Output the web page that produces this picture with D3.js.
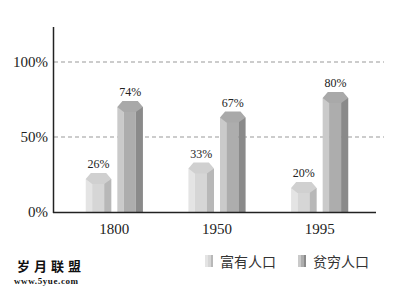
<!DOCTYPE html>
<html>
<head>
<meta charset="utf-8">
<script src="https://cdn.jsdelivr.net/npm/d3@7"></script>
<style>
  body { margin: 0; background: #fff; }
  text { font-family: "Liberation Serif", "DejaVu Serif", serif; }
  .cjk { font-family: "Noto Sans CJK SC", sans-serif; }
</style>
</head>
<body>
<div id="chart"></div>
<script>
const years = ["1800", "1950", "1995"];
const seriesNames = ["富有人口", "贫穷人口"];
const rich = [26, 33, 20];
const poor = [74, 67, 80];
const yTicks = [0, 50, 100];

const width = 400, height = 291;

const svg = d3.select("#chart").append("svg")
  .attr("width", width)
  .attr("height", height);

// scales
const x = d3.scaleBand()
  .domain(years)
  .range([63, 371])
  .padding(0);

const inner = d3.scaleBand()
  .domain(seriesNames)
  .range([0, x.bandwidth()])
  .paddingInner(0.19)
  .paddingOuter(0.72);

const y = d3.scaleLinear()
  .domain([0, 100])
  .range([212, 62]);

// colours: left face, middle face, right face, top cap
const palette = {
  "富有人口": ["#e4e4e4", "#d6d6d6", "#b8b8b8", "#d0d0d0"],
  "贫穷人口": ["#cacaca", "#adadad", "#8a8a8a", "#a9a9a9"]
};

// grid lines
svg.selectAll(".grid")
  .data(yTicks.filter(d => d > 0))
  .enter().append("line")
  .attr("class", "grid")
  .attr("x1", 54).attr("x2", 384)
  .attr("y1", d => y(d)).attr("y2", d => y(d))
  .attr("stroke", "#999")
  .attr("stroke-width", 1)
  .attr("stroke-dasharray", "4,3");

// y tick labels
svg.selectAll(".ytick")
  .data(yTicks)
  .enter().append("text")
  .attr("class", "ytick")
  .attr("x", 48)
  .attr("y", d => y(d) + 5)
  .attr("text-anchor", "end")
  .attr("font-size", 15)
  .attr("fill", "#222")
  .text(d => d + "%");

// bars
const groups = svg.selectAll(".year")
  .data(years)
  .enter().append("g")
  .attr("class", "year")
  .attr("transform", d => "translate(" + x(d) + ",0)");

function drawBar(g, name, value) {
  const x0 = inner(name);
  const w = inner.bandwidth();
  const top = y(value);
  const base = y(0);
  const c = palette[name];
  const s1 = 6, s2 = 11;
  const a = x0 + w * 0.25, b = x0 + w * 0.72;
  // faces
  g.append("rect").attr("x", x0).attr("y", top + s1)
    .attr("width", a - x0).attr("height", base - top - s1).attr("fill", c[0]);
  g.append("rect").attr("x", a).attr("y", top + s1)
    .attr("width", b - a).attr("height", base - top - s1).attr("fill", c[1]);
  g.append("rect").attr("x", b).attr("y", top + s1)
    .attr("width", x0 + w - b).attr("height", base - top - s1).attr("fill", c[2]);
  // hexagonal cap
  const pts = [
    [x0, top + s1], [x0 + w * 0.2, top], [x0 + w * 0.8, top],
    [x0 + w, top + s1], [b, top + s2], [a, top + s2]
  ];
  g.append("polygon")
    .attr("points", pts.map(p => p.join(",")).join(" "))
    .attr("fill", c[3]);
  // value label
  g.append("text")
    .attr("x", x0 + w / 2)
    .attr("y", top - 5)
    .attr("text-anchor", "middle")
    .attr("font-size", 12)
    .attr("fill", "#222")
    .text(value + "%");
}

groups.each(function(d, i) {
  const g = d3.select(this);
  drawBar(g, seriesNames[0], rich[i]);
  drawBar(g, seriesNames[1], poor[i]);
});

// axes lines
svg.append("line")
  .attr("x1", 53.5).attr("x2", 53.5)
  .attr("y1", 27).attr("y2", 213)
  .attr("stroke", "#222").attr("stroke-width", 1.5);
svg.append("line")
  .attr("x1", 53).attr("x2", 376)
  .attr("y1", 212.5).attr("y2", 212.5)
  .attr("stroke", "#222").attr("stroke-width", 1.5);

// x labels
svg.selectAll(".xlabel")
  .data(years)
  .enter().append("text")
  .attr("class", "xlabel")
  .attr("x", d => x(d) + x.bandwidth() / 2)
  .attr("y", 234)
  .attr("text-anchor", "middle")
  .attr("font-size", 15)
  .attr("fill", "#222")
  .text(d => d);

// legend
const legend = svg.selectAll(".legend")
  .data(seriesNames)
  .enter().append("g")
  .attr("class", "legend")
  .attr("transform", (d, i) => "translate(" + (205 + i * 93) + ",255)");

legend.append("rect")
  .attr("x", 0).attr("y", 0).attr("width", 3).attr("height", 12)
  .attr("fill", d => palette[d][0]);
legend.append("rect")
  .attr("x", 3).attr("y", 0).attr("width", 3).attr("height", 12)
  .attr("fill", d => palette[d][1]);
legend.append("rect")
  .attr("x", 6).attr("y", 0).attr("width", 2).attr("height", 12)
  .attr("fill", d => palette[d][2]);
legend.append("text")
  .attr("class", "cjk")
  .attr("x", 15).attr("y", 12)
  .attr("font-size", 14)
  .attr("fill", "#333")
  .text(d => d);

// site mark bottom-left
svg.append("text")
  .attr("class", "cjk")
  .attr("x", 17).attr("y", 271)
  .attr("font-size", 13)
  .attr("font-weight", "bold")
  .attr("letter-spacing", 4)
  .attr("fill", "#111")
  .text("岁月联盟");
svg.append("text")
  .attr("x", 14).attr("y", 284)
  .attr("font-family", "DejaVu Sans, sans-serif")
  .attr("font-size", 9)
  .attr("font-weight", "bold")
  .attr("letter-spacing", 0.6)
  .attr("fill", "#111")
  .text("www.5yue.com");
</script>
</body>
</html>
